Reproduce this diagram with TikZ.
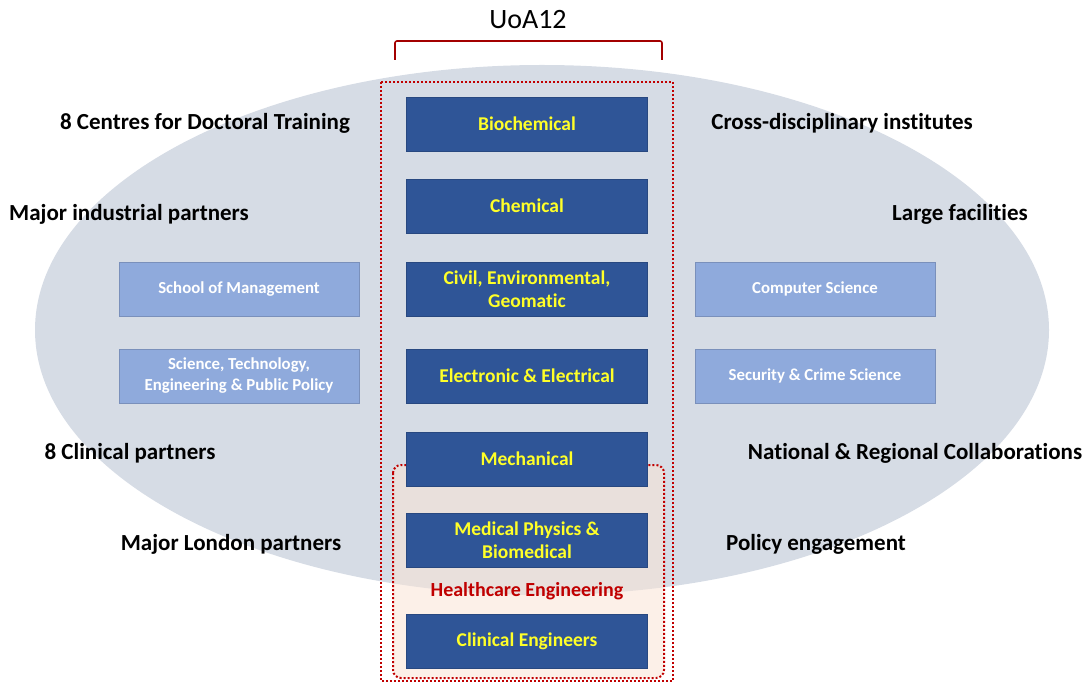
\documentclass[tikz,border=0pt]{standalone}
\usepackage{fontspec}
\setmainfont[Ligatures=NoCommon]{Carlito}

\definecolor{ovalgrey}{RGB}{214,220,229}
\definecolor{deptblue}{RGB}{47,85,151}
\definecolor{unityellow}{RGB}{255,255,40}
\definecolor{partnerblue}{RGB}{143,170,220}
\definecolor{framered}{RGB}{192,0,0}
\definecolor{healthpeach}{RGB}{250,228,214}

\begin{document}
\begin{tikzpicture}[x=1pt, y=-1pt,
    unit/.style={fill=deptblue, draw=deptblue!85!black, minimum width=241pt,
                 minimum height=54pt, inner sep=2pt, align=center,
                 text=unityellow, font=\bfseries\fontsize{19.5}{23}\selectfont},
    partner/.style={fill=partnerblue, draw=partnerblue!85!black, minimum width=240pt,
                    minimum height=54pt, inner sep=2pt, align=center,
                    text=white, font=\bfseries\fontsize{16.8}{21}\selectfont},
    link/.style={font=\bfseries\fontsize{23}{26}\selectfont, text=black},
    frame/.style={draw=framered, line width=2pt, dash pattern=on 2pt off 2pt}
]
\useasboundingbox (0,0) rectangle (1084,684);

% --- background oval ---
\fill[ovalgrey] (542,330) ellipse [x radius=507pt, y radius=265pt];

% --- UoA12 bracket ---
\node[font=\fontsize{28}{32}\selectfont] (uoa) at (528,20) {UoA12};
\coordinate (brl) at (395,60);
\coordinate (brr) at (662,60);
\draw[framered!85!black, line width=1.6pt, rounded corners=2pt]
    (brl) -- (395,41) -- (662,41) -- (brr);

% --- frames ---
\draw[frame] (381,82) rectangle (673,681);
\draw[frame, fill=healthpeach, fill opacity=0.55, rounded corners=8pt]
    (393,465) rectangle (664,678);

% --- engineering departments ---
\node[unit] (bio)  at (527,124) {Biochemical};
\node[unit] (chem) at (527,206) {Chemical};
\node[unit] (civ)  at (527,289) {Civil, Environmental,\\Geomatic};
\node[unit] (elec) at (527,376) {Electronic \& Electrical};
\node[unit] (mech) at (527,459) {Mechanical};
\node[unit] (med)  at (527,540) {Medical Physics \&\\Biomedical};
\node[unit] (clin) at (527,641) {Clinical Engineers};

\node[font=\bfseries\fontsize{20}{24}\selectfont, text=framered] (hce) at (527,591)
    {Healthcare Engineering};

% --- partner departments ---
\node[partner] (som)  at (239,289) {School of Management};
\node[partner] (step) at (239,376) {Science, Technology,\\Engineering \& Public Policy};
\node[partner] (cs)   at (815,289) {Computer Science};
\node[partner] (scs)  at (815,376) {Security \& Crime Science};

% --- links outside the faculty ---
\node[link] (cdt)   at (205,123) {8 Centres for Doctoral Training};
\node[link] (ind)   at (129,214) {Major industrial partners};
\node[link] (clinp) at (130,453) {8 Clinical partners};
\node[link] (lon)   at (231,544) {Major London partners};
\node[link] (inst)  at (842,123) {Cross-disciplinary institutes};
\node[link] (fac)   at (960,214) {Large facilities};
\node[link] (nat)   at (915,453) {National \& Regional Collaborations};
\node[link] (pol)   at (816,544) {Policy engagement};

\end{tikzpicture}
\end{document}
